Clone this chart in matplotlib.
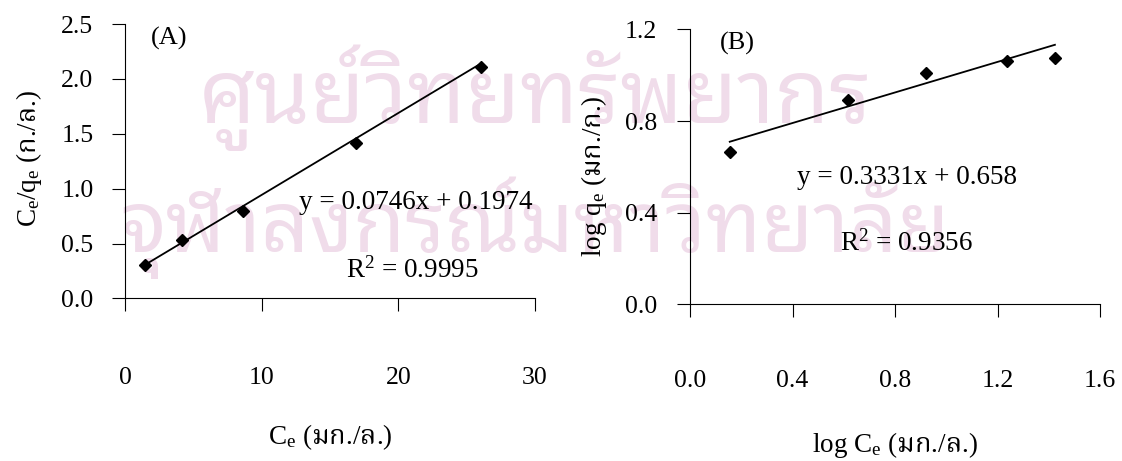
import matplotlib
matplotlib.use("Agg")
import matplotlib.pyplot as plt
import numpy as np

# Langmuir (A) and Freundlich (B) isotherm data
ce = [1.5, 4.2, 8.6, 16.9, 26.05]
ce_over_qe = [0.305, 0.533, 0.80, 1.42, 2.11]
log_ce = [0.155, 0.615, 0.922, 1.236, 1.424]
log_qe = [0.665, 0.89, 1.01, 1.06, 1.075]

# slope, intercept, R^2 of the linear fits
fit_a = (0.0746, 0.1974, 0.9995)
fit_b = (0.3331, 0.658, 0.9356)

xticks_a = [0, 10, 20, 30]
yticks_a = [0.0, 0.5, 1.0, 1.5, 2.0, 2.5]
xticks_b = [0.0, 0.4, 0.8, 1.2, 1.6]
yticks_b = [0.0, 0.4, 0.8, 1.2]

plt.rcParams["font.family"] = ["Liberation Serif", "Noto Serif Thai"]
plt.rcParams["mathtext.fontset"] = "custom"
plt.rcParams["mathtext.rm"] = "Liberation Serif"
plt.rcParams["mathtext.it"] = "Liberation Serif:italic"
plt.rcParams["mathtext.sf"] = "Noto Serif Thai"  # Thai units inside labels

fig = plt.figure(figsize=(11.22, 4.61), dpi=100)

# university watermark behind the plots
wm = dict(color="#f0dcea", family="Noto Sans Thai Looped",
          ha="center", va="baseline", zorder=-5)
fig.text(0.477, 0.733, "ศูนย์วิทยทรัพยากร", fontsize=64, **wm)
fig.text(0.477, 0.453, "จุฬาลงกรณ์มหาวิทยาลัย", fontsize=61, **wm)


def style_axis(ax, xticks, yticks, xfmt, xpad, ypad):
    ax.patch.set_visible(False)
    for s in ["top", "right"]:
        ax.spines[s].set_visible(False)
    for s in ["left", "bottom"]:
        ax.spines[s].set_linewidth(0.8)
    ax.set_xlim(xticks[0], xticks[-1])
    ax.set_ylim(yticks[0], yticks[-1])
    ax.set_xticks(xticks)
    ax.set_yticks(yticks)
    ax.set_xticklabels([xfmt.format(t) for t in xticks])
    ax.set_yticklabels(["{:.1f}".format(t) for t in yticks])
    ax.tick_params(axis="both", direction="out", length=9.5, width=0.8,
                   labelsize=18.5)
    ax.tick_params(axis="x", pad=xpad)
    ax.tick_params(axis="y", pad=ypad)


def fit_line(ax, x, fit):
    xs = np.array([min(x), max(x)])
    ax.plot(xs, fit[0] * xs + fit[1], color="black", lw=1.3, zorder=2)


def annotate_fit(ax, fit, eq_xy, r2_xy):
    ax.text(*eq_xy, "y = {}x + {}".format(fit[0], fit[1]),
            transform=ax.transAxes, fontsize=19.5, ha="center", va="center")
    ax.text(*r2_xy, "R$^2$ = {}".format(fit[2]),
            transform=ax.transAxes, fontsize=19.5, ha="center", va="center")


# (A) Ce/qe versus Ce
ax_a = fig.add_axes([0.1114, 0.3525, 0.3654, 0.5954])
style_axis(ax_a, xticks_a, yticks_a, "{:d}", 40, 13.2)
fit_line(ax_a, ce, fit_a)
ax_a.plot(ce, ce_over_qe, "D", color="black", ms=6.5, zorder=3)
ax_a.text(0.107, 0.949, "(A)", transform=ax_a.transAxes, fontsize=19,
          ha="center", va="center")
annotate_fit(ax_a, fit_a, (0.71, 0.3515), (0.702, 0.104))
ax_a.set_xlabel(r"C$_\mathrm{e}$ ($\mathsf{มก}$./$\mathsf{ล}$.)", fontsize=19.5)
ax_a.set_ylabel(r"C$_\mathrm{e}$/q$_\mathrm{e}$ ($\mathsf{ก}$./$\mathsf{ล}$.)",
                fontsize=19.5)
ax_a.xaxis.set_label_coords(0.5, -0.5046)
ax_a.xaxis.label.set_va("center")
ax_a.yaxis.set_label_coords(-0.235, 0.51)
ax_a.yaxis.label.set_va("center")

# (B) log qe versus log Ce
ax_b = fig.add_axes([0.615, 0.3395, 0.3654, 0.597])
style_axis(ax_b, xticks_b, yticks_b, "{:.1f}", 38, 14.4)
fit_line(ax_b, log_ce, fit_b)
ax_b.plot(log_ce, log_qe, "D", color="black", ms=6.5, zorder=3)
ax_b.text(0.115, 0.95, "(B)", transform=ax_b.transAxes, fontsize=19,
          ha="center", va="center")
annotate_fit(ax_b, fit_b, (0.529, 0.463), (0.529, 0.2235))
ax_b.set_xlabel(r"log C$_\mathrm{e}$ ($\mathsf{มก}$./$\mathsf{ล}$.)",
                fontsize=19.5)
ax_b.set_ylabel(r"log q$_\mathrm{e}$ ($\mathsf{มก}$./$\mathsf{ก}$.)",
                fontsize=19.5)
ax_b.xaxis.set_label_coords(0.5, -0.51)
ax_b.xaxis.label.set_va("center")
ax_b.yaxis.set_label_coords(-0.234, 0.465)
ax_b.yaxis.label.set_va("center")

fig.savefig("out.png", dpi=100)
